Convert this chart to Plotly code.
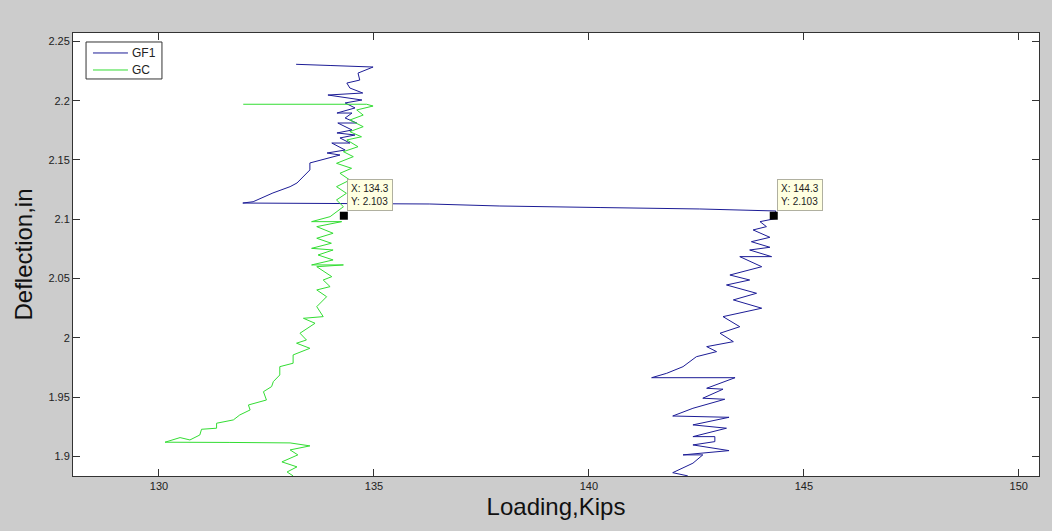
import plotly.graph_objects as go

# GF1 load-deflection record (Kips, in)
gf1_load = [
    142.30, 141.95, 142.42, 142.65, 142.19, 143.26, 142.42, 142.93, 142.93, 142.42,
    143.20, 142.42, 143.26, 141.95, 142.42, 143.16, 142.65, 143.12, 142.74, 143.40,
    141.46, 141.81, 142.19, 142.50, 142.97, 142.74, 143.36, 143.05, 143.51, 143.12,
    144.02, 143.36, 143.90, 143.20, 143.74, 143.28, 144.02, 143.51, 144.25, 143.74,
    144.21, 143.78, 144.21, 143.82, 144.13, 143.98, 144.37, 144.30, 144.35,
    142.58, 140.26, 137.93, 136.30, 133.98, 131.95,
    132.19, 132.65, 133.05, 133.21, 133.51, 133.51, 134.21, 133.91, 134.33, 134.02,
    134.44, 134.21, 134.56, 134.14, 134.49, 134.16, 134.60, 134.33, 134.49, 134.14,
    134.56, 134.33, 134.72, 134.21, 133.93, 134.74, 134.44, 134.37, 134.67, 134.63,
    134.98, 133.98, 133.19,
]
gf1_defl = [
    1.8836, 1.8863, 1.8943, 1.9013, 1.9013, 1.9049, 1.9097, 1.9125, 1.9167, 1.9167,
    1.9238, 1.9266, 1.9330, 1.9341, 1.9406, 1.9482, 1.9491, 1.9567, 1.9575, 1.9664,
    1.9664, 1.9701, 1.9757, 1.9841, 1.9884, 1.9926, 1.9968, 2.0039, 2.0094, 2.0179,
    2.0250, 2.0320, 2.0376, 2.0446, 2.0488, 2.0530, 2.0600, 2.0685, 2.0685, 2.0741,
    2.0764, 2.0811, 2.0848, 2.0910, 2.0938, 2.0980, 2.1008, 2.1030, 2.1070,
    2.1087, 2.1099, 2.1112, 2.1129, 2.1135, 2.1137,
    2.1148, 2.1222, 2.1275, 2.1306, 2.1416, 2.1475, 2.1542, 2.1559, 2.1584, 2.1643,
    2.1643, 2.1686, 2.1711, 2.1728, 2.1753, 2.1812, 2.1812, 2.1854, 2.1896, 2.1896,
    2.1939, 2.1981, 2.2006, 2.2031, 2.2048, 2.2065, 2.2107, 2.2149, 2.2174, 2.2233,
    2.2284, 2.2297, 2.2307,
]

# GC load-deflection record (Kips, in)
gc_load = [
    133.12, 132.98, 133.21, 132.86, 133.23, 133.05, 133.51, 133.05, 131.65, 130.14,
    130.49, 130.72, 130.95, 130.99, 131.34, 131.34, 131.73, 131.88, 132.12, 132.08,
    132.50, 132.43, 132.62, 132.66, 132.81, 132.81, 133.12, 133.12, 133.51, 133.20,
    133.43, 133.28, 133.63, 133.36, 133.82, 133.67, 133.90, 133.67, 133.98, 133.82,
    134.02, 133.67, 134.29, 133.55, 134.05, 133.70, 134.05, 133.55, 134.01, 133.67,
    134.05, 133.67, 134.25, 133.55, 133.98, 134.29, 134.13, 134.36, 134.13, 134.44,
    134.21, 134.48, 134.13, 134.52, 134.29, 134.63, 134.37, 134.71, 134.44, 134.75,
    134.44, 134.75, 134.60, 134.98, 134.83, 133.28, 131.96,
]
gc_defl = [
    1.8836, 1.8869, 1.8912, 1.8954, 1.9013, 1.9055, 1.9089, 1.9114, 1.9118, 1.9120,
    1.9159, 1.9139, 1.9181, 1.9229, 1.9238, 1.9280, 1.9308, 1.9350, 1.9392, 1.9434,
    1.9476, 1.9546, 1.9589, 1.9631, 1.9687, 1.9757, 1.9786, 1.9856, 1.9912, 1.9955,
    1.9982, 2.0039, 2.0123, 2.0165, 2.0179, 2.0263, 2.0347, 2.0404, 2.0432, 2.0488,
    2.0516, 2.0600, 2.0615, 2.0615, 2.0657, 2.0699, 2.0741, 2.0755, 2.0798, 2.0840,
    2.0882, 2.0938, 2.0980, 2.0980, 2.1022, 2.1106, 2.1163, 2.1219, 2.1275, 2.1331,
    2.1388, 2.1430, 2.1472, 2.1528, 2.1570, 2.1612, 2.1669, 2.1696, 2.1739, 2.1781,
    2.1837, 2.1879, 2.1922, 2.1955, 2.1970, 2.1970, 2.1970,
]

# Data tips
tip_load = [134.3, 144.3]
tip_defl = [2.103, 2.103]

x_ticks = [130, 135, 140, 145, 150]
y_ticks = [1.9, 1.95, 2.0, 2.05, 2.1, 2.15, 2.2, 2.25]
y_tick_text = ["1.9", "1.95", "2", "2.05", "2.1", "2.15", "2.2", "2.25"]

BLUE = "#1c1c96"
GREEN = "#33dd33"
FONT = "Liberation Sans, Arial, sans-serif"

series = [("GF1", gf1_load, gf1_defl, BLUE), ("GC", gc_load, gc_defl, GREEN)]

fig = go.Figure()
for name, xs, ys, color in series:
    fig.add_trace(go.Scatter(x=xs, y=ys, mode="lines", name=name, showlegend=False,
                             line=dict(color=color, width=1)))
fig.add_trace(go.Scatter(x=tip_load, y=tip_defl, mode="markers", showlegend=False,
                         marker=dict(symbol="square", size=8, color="black")))

for xv, yv in zip(tip_load, tip_defl):
    fig.add_annotation(x=xv, y=yv, xref="x", yref="y",
                       text=f"X: {xv:.1f}<br>Y: {yv:.3f}",
                       showarrow=False, xanchor="left", yanchor="bottom",
                       xshift=3, yshift=5, align="left",
                       bgcolor="#ffffe1", bordercolor="#b0b0a0", borderwidth=1,
                       borderpad=3,
                       font=dict(family=FONT, size=10, color="#222222"))

# Compact boxed legend in the upper-left corner of the axes
leg_x0, leg_x1, leg_y0, leg_y1 = 0.0135, 0.0921, 0.8962, 0.9797
fig.add_shape(type="rect", xref="paper", yref="paper",
              x0=leg_x0, x1=leg_x1, y0=leg_y0, y1=leg_y1,
              line=dict(color="#333333", width=1), fillcolor="white", layer="above")
for i, (name, _, _, color) in enumerate(series):
    ly = 0.9549 - i * 0.0384
    fig.add_shape(type="line", xref="paper", yref="paper",
                  x0=0.0207, x1=0.0569, y0=ly, y1=ly,
                  line=dict(color=color, width=1), layer="above")
    fig.add_annotation(x=0.0590, y=ly, xref="paper", yref="paper", text=name,
                       showarrow=False, xanchor="left", yanchor="middle",
                       font=dict(family=FONT, size=12, color="#222222"))

axis_common = dict(showline=True, linecolor="#333333", linewidth=1, mirror="ticks",
                   ticks="inside", ticklen=7, tickcolor="#333333",
                   showgrid=False, zeroline=False,
                   tickfont=dict(family=FONT, size=11, color="#222222"))

fig.update_layout(
    width=1052, height=531,
    margin=dict(l=73, r=13, t=33, b=55),
    paper_bgcolor="#cccccc", plot_bgcolor="white",
    font=dict(family=FONT),
    xaxis=dict(range=[128, 150.47], tickvals=x_ticks,
               title=dict(text="Loading,Kips", font=dict(family=FONT, size=24, color="#111111"),
                          standoff=6),
               **axis_common),
    yaxis=dict(range=[1.8835, 2.2571], tickvals=y_ticks, ticktext=y_tick_text,
               title=dict(text="Deflection,in", font=dict(family=FONT, size=24, color="#111111"),
                          standoff=8),
               **axis_common),
    showlegend=False,
)

fig.write_html("out.html")
